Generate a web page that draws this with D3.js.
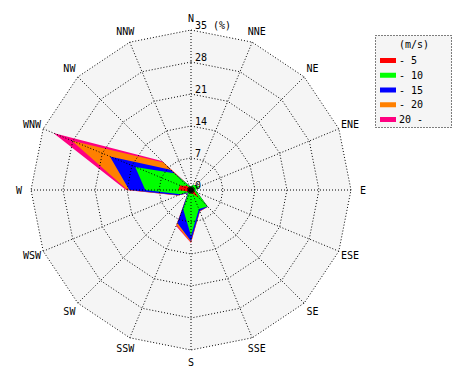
<!DOCTYPE html>
<html><head><meta charset="utf-8">
<script src="https://cdn.jsdelivr.net/npm/d3@7"></script>
<style>body{margin:0;background:#fff}svg{display:block}</style>
</head><body>
<svg id="c" width="470" height="380"></svg>
<script>
const directions = ["N","NNE","NE","ENE","E","ESE","SE","SSE","S","SSW","SW","WSW","W","WNW","NW","NNW"];
const speedBins = ["- 5","- 10","- 15","- 20","20 -"];
const binColors = ["#ff0000","#00ff00","#0000ff","#ff8000","#ff0080"];
// frequency (%) per direction for each wind-speed bin
const s0_5   = [0.4,0.5,0.6,0.6,0.5,0.8,2.5,0.8,0.8,0.5,0.4,0.8,2.8,2.6,1.2,0.5];
const s5_10  = [0.4,0.7,0.9,1.4,0.5,0.7,2.6,3.7,9.2,4.0,0.4,1.7,7.2,10.6,4.0,0.5];
const s10_15 = [0.0,0.0,0.0,0.0,0.0,0.0,0.1,0.5,1.2,3.3,0.2,0.5,3.5,6.0,1.1,0.0];
const s15_20 = [0.0,0.0,0.0,0.0,0.0,0.0,0.0,0.1,0.3,0.5,0.0,0.1,0.4,9.0,2.2,0.0];
const s20_   = [0.0,0.0,0.0,0.0,0.0,0.0,0.0,0.0,0.1,0.2,0.0,0.1,0.3,4.4,0.5,0.0];
const ringTicks = [0,7,14,21,28,35];

const series = [s0_5, s5_10, s10_15, s15_20, s20_];
const svg = d3.select("#c");
const cx = 191, cy = 190, R = 160;
const r = d3.scaleLinear().domain([0,35]).range([0,R]);
const ang = d3.scalePoint().domain(directions).range([0, 2*Math.PI*15/16]);
const g = svg.append("g").attr("transform",`translate(${cx},${cy})`);

const poly = d3.lineRadial().curve(d3.curveLinearClosed);
// background
g.append("path").attr("d", poly(directions.map(d=>[ang(d), r(35)]))).attr("fill","#f5f5f5");

// cumulative stacks
const cum = [];
series.forEach((s,i)=>{ cum.push(s.map((v,j)=> v + (i? cum[i-1][j] : 0))); });
for (let i = series.length-1; i>=0; i--) {
  g.append("path")
    .attr("d", poly(directions.map((d,j)=>[ang(d), r(cum[i][j])])))
    .attr("fill", binColors[i]);
}
// grid
ringTicks.slice(1).forEach(t=>{
  g.append("path").attr("d", poly(directions.map(d=>[ang(d), r(t)])))
   .attr("fill","none").attr("stroke","#000").attr("stroke-width",1).attr("stroke-dasharray","1,2");
});
directions.forEach(d=>{
  const a = ang(d);
  g.append("line").attr("x1",0).attr("y1",0)
   .attr("x2", r(35)*Math.sin(a)).attr("y2", -r(35)*Math.cos(a))
   .attr("stroke","#000").attr("stroke-width",1).attr("stroke-dasharray","1,2");
});
g.append("circle").attr("r",3).attr("fill","#000");

const font = "DejaVu Sans Mono, monospace";
// ring labels
ringTicks.forEach(t=>{
  g.append("text").attr("x",4).attr("y",-r(t)-1)
   .attr("font-family",font).attr("font-size",10).attr("fill","#000")
   .text(t===35 ? "35 (%)" : String(t));
});
// direction labels
directions.forEach(d=>{
  const a = ang(d), L = 172;
  g.append("text").attr("x", L*Math.sin(a)).attr("y", -L*Math.cos(a))
   .attr("text-anchor","middle").attr("dominant-baseline","central")
   .attr("font-family",font).attr("font-size",10).attr("fill","#000").text(d);
});

// legend
const lg = svg.append("g").attr("transform","translate(375,35)");
lg.append("rect").attr("x",0.5).attr("y",0.5).attr("width",76).attr("height",92)
  .attr("fill","#f5f5f5").attr("stroke","#000").attr("stroke-dasharray","1,2");
lg.append("text").attr("x",39).attr("y",13).attr("text-anchor","middle")
  .attr("font-family",font).attr("font-size",10).text("(m/s)");
const ly = d3.scaleLinear().domain([0,4]).range([25,84]);
speedBins.forEach((b,i)=>{
  lg.append("rect").attr("x",5).attr("y",ly(i)-2).attr("width",16).attr("height",5).attr("fill",binColors[i]);
  lg.append("text").attr("x",24).attr("y",ly(i)+4).attr("font-family",font).attr("font-size",10).text(b);
});
</script>
</body></html>
